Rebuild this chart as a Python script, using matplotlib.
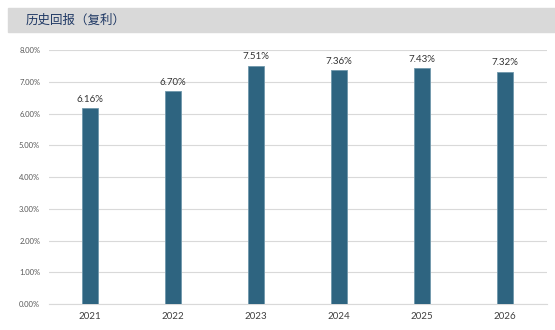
import matplotlib.pyplot as plt
from matplotlib.patches import Rectangle
from matplotlib.ticker import FuncFormatter

years = ["2021", "2022", "2023", "2024", "2025", "2026"]
returns = [6.16, 6.70, 7.51, 7.36, 7.43, 7.32]
labels = ["6.16%", "6.70%", "7.51%", "7.36%", "7.43%", "7.32%"]
title = "历史回报（复利）"

plt.rcParams['font.family'] = ['Lato', 'DejaVu Sans']

fig = plt.figure(figsize=(5.55, 3.3), dpi=100)

# header band
fig.patches.append(Rectangle((8 / 555, 1 - 32 / 330), 1, 24 / 330,
                             transform=fig.transFigure, color="#d9d9d9", zorder=0))
fig.text(26 / 555, 1 - 20 / 330, title, fontsize=9, color="#1f3864",
         va="center", ha="left", family=['Noto Sans CJK SC', 'DejaVu Sans'])

ax = fig.add_axes([48.5 / 555, 1 - 304 / 330, 498 / 555, 254 / 330])
x = range(len(years))
bars = ax.bar(x, returns, width=0.2, color="#2e6480", edgecolor="#6f97ab",
               linewidth=0.6, zorder=3)
for i, v in enumerate(returns):
    ax.text(i, v + 0.14, labels[i], ha="center", va="bottom", fontsize=7,
            color="#333333")

ax.set_xlim(-0.5, len(years) - 0.5)
ax.set_ylim(0, 8)
ax.set_yticks(range(0, 9))
ax.yaxis.set_major_formatter(FuncFormatter(lambda v, p: "%.2f%%" % v))
ax.set_xticks(list(x))
ax.set_xticklabels(years)
ax.tick_params(axis="y", length=0, labelsize=5.5, labelcolor="#595959", pad=6)
ax.tick_params(axis="x", length=0, labelsize=7, labelcolor="#404040", pad=6)
ax.grid(axis="y", color="#d9d9d9", linewidth=0.8, zorder=0)
for s in ["top", "right", "left"]:
    ax.spines[s].set_visible(False)
ax.spines["bottom"].set_color("#d9d9d9")
ax.spines["bottom"].set_linewidth(0.8)

fig.savefig("out.png", dpi=100)
